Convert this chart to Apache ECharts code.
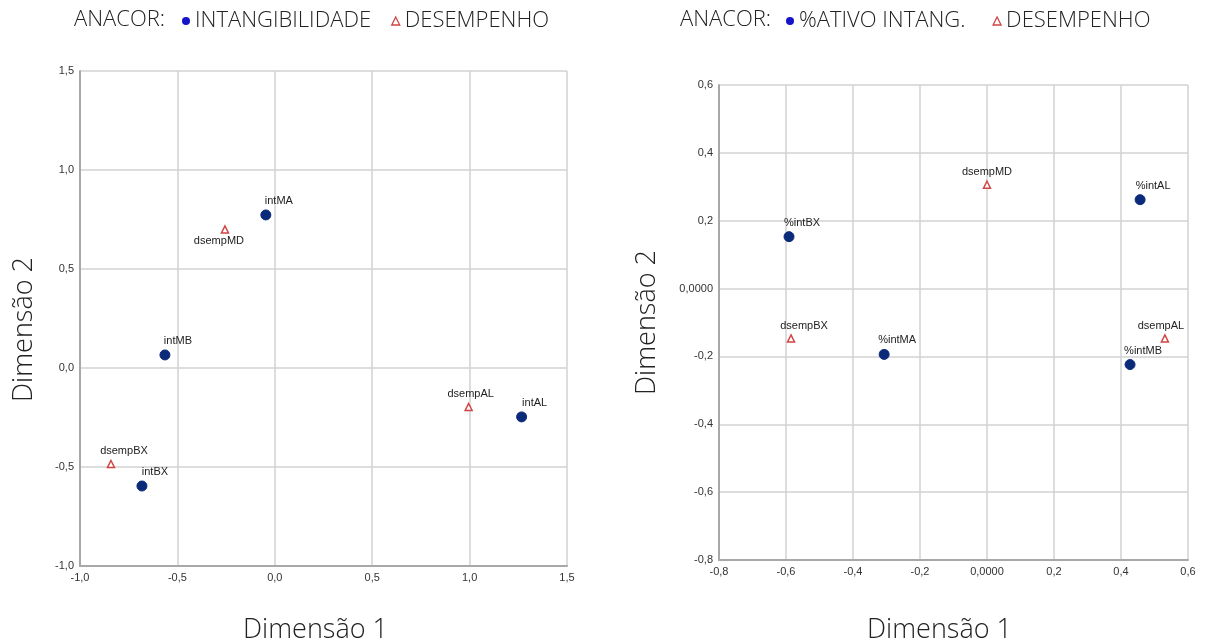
<!DOCTYPE html>
<html>
<head>
<meta charset="utf-8">
<script src="https://cdn.jsdelivr.net/npm/echarts@6/dist/echarts.min.js"></script>
<style>
html,body{margin:0;padding:0;background:#fff;}
#chart{width:1208px;height:644px;}
</style>
</head>
<body>
<div id="chart"></div>
<script>
// ---- Data ----
// Left chart: INTANGIBILIDADE vs DESEMPENHO
const leftIntNames = ['intMA', 'intMB', 'intAL', 'intBX'];
const leftIntX = [-0.046, -0.564, 1.267, -0.682];
const leftIntY = [0.773, 0.066, -0.247, -0.596];
const leftDesNames = ['dsempMD', 'dsempAL', 'dsempBX'];
const leftDesX = [-0.256, 0.995, -0.841];
const leftDesY = [0.700, -0.197, -0.485];
const leftXTicks = [-1.0, -0.5, 0.0, 0.5, 1.0, 1.5];
const leftYTicks = [-1.0, -0.5, 0.0, 0.5, 1.0, 1.5];

// Right chart: %ATIVO INTANG. vs DESEMPENHO
const rightIntNames = ['%intBX', '%intAL', '%intMA', '%intMB'];
const rightIntX = [-0.591, 0.457, -0.307, 0.427];
const rightIntY = [0.153, 0.262, -0.194, -0.224];
const rightDesNames = ['dsempMD', 'dsempBX', 'dsempAL'];
const rightDesX = [0.000, -0.585, 0.531];
const rightDesY = [0.306, -0.147, -0.147];
const rightXTicks = [-0.8, -0.6, -0.4, -0.2, 0.0, 0.2, 0.4, 0.6];
const rightYTicks = [-0.8, -0.6, -0.4, -0.2, 0.0, 0.2, 0.4, 0.6];

const legendLeft = ['INTANGIBILIDADE', 'DESEMPENHO'];
const legendRight = ['%ATIVO INTANG.', 'DESEMPENHO'];

// label placement tweaks (style only)
const labelTweaks = {
  'L:dsempMD': {position: 'bottom', offset: [-6, -1]},
  'L:dsempAL': {position: 'top', offset: [2, 0]},
  'R:dsempMD': {position: 'top', offset: [0, 0]},
  'R:dsempAL': {position: 'top', offset: [-4, 0]}
};

const TITLE_FONT = '"Open Sans", Lato, sans-serif';
const TICK_FONT = '"Liberation Sans", Arial, sans-serif';

function pts(side, names, xs, ys) {
  return names.map((n, i) => {
    const t = labelTweaks[side + ':' + n] || {position: 'top', offset: [13, 0]};
    return {
      value: [xs[i], ys[i]],
      name: n,
      label: {position: t.position, offset: t.offset}
    };
  });
}

function fmtLeft(v) {
  if (Math.abs(v) < 1e-9) return '0,0';
  return v.toFixed(1).replace('.', ',');
}
function fmtRight(v) {
  if (Math.abs(v) < 1e-9) return '0,0000';
  return v.toFixed(1).replace('.', ',');
}

const nameStyle = {fontFamily: TITLE_FONT, fontSize: 27, color: '#222', fontWeight: 300};

const axisCommon = {
  type: 'value',
  nameLocation: 'middle',
  axisLine: {show: true, onZero: false, lineStyle: {color: '#a8a8a8', width: 2}},
  axisTick: {show: false},
  splitLine: {show: true, lineStyle: {color: '#d2d2d2', width: 1.5}},
  axisLabel: {fontFamily: TICK_FONT, fontSize: 11, color: '#333'}
};

const labelStyle = {
  show: true,
  formatter: p => p.name,
  fontFamily: TICK_FONT,
  fontSize: 11,
  color: '#222',
  distance: 3
};

const legendText = {fontFamily: TITLE_FONT, fontSize: 22, fontWeight: 300, color: '#222'};

const option = {
  backgroundColor: '#fff',
  animation: false,
  title: [
    {text: 'ANACOR:', left: 69, top: 4, textStyle: legendText},
    {text: 'ANACOR:', left: 675, top: 4, textStyle: legendText}
  ],
  legend: [
    {
      data: [
        {name: legendLeft[0], icon: 'circle', itemStyle: {color: '#1414c8'}},
        {name: legendLeft[1], icon: 'triangle', itemStyle: {color: '#fff', borderColor: '#d04545', borderWidth: 1.3}}
      ],
      left: 177, top: 5, itemWidth: 8, itemHeight: 8, itemGap: 20,
      textStyle: legendText
    },
    {
      data: [
        {name: legendRight[0], icon: 'circle', itemStyle: {color: '#1414c8'}},
        {name: legendRight[1], icon: 'triangle', itemStyle: {color: '#fff', borderColor: '#d04545', borderWidth: 1.3}}
      ],
      left: 781, top: 5, itemWidth: 8, itemHeight: 8, itemGap: 27,
      textStyle: legendText
    }
  ],
  grid: [
    {left: 80, top: 71, width: 487, height: 495, outerBoundsMode: 'none', containLabel: false},
    {left: 719, top: 85, width: 469, height: 475, outerBoundsMode: 'none', containLabel: false}
  ],
  xAxis: [
    Object.assign({}, axisCommon, {gridIndex: 0, min: leftXTicks[0], max: leftXTicks[leftXTicks.length - 1], interval: 0.5,
      name: 'Dimensão 1', nameGap: 51,
      nameTextStyle: Object.assign({}, nameStyle, {padding: [0, 16, 0, 0]}),
      axisLabel: Object.assign({}, axisCommon.axisLabel, {formatter: fmtLeft, margin: 6})}),
    Object.assign({}, axisCommon, {gridIndex: 1, min: rightXTicks[0], max: rightXTicks[rightXTicks.length - 1], interval: 0.2,
      name: 'Dimensão 1', nameGap: 57,
      nameTextStyle: Object.assign({}, nameStyle, {padding: [0, 28, 0, 0]}),
      axisLabel: Object.assign({}, axisCommon.axisLabel, {formatter: fmtRight, margin: 6})})
  ],
  yAxis: [
    Object.assign({}, axisCommon, {gridIndex: 0, min: leftYTicks[0], max: leftYTicks[leftYTicks.length - 1], interval: 0.5,
      name: 'Dimensão 2', nameGap: 42,
      nameTextStyle: Object.assign({}, nameStyle, {padding: [0, 22, 0, 0]}),
      axisLabel: Object.assign({}, axisCommon.axisLabel, {formatter: fmtLeft, margin: 6})}),
    Object.assign({}, axisCommon, {gridIndex: 1, min: rightYTicks[0], max: rightYTicks[rightYTicks.length - 1], interval: 0.2,
      name: 'Dimensão 2', nameGap: 58,
      nameTextStyle: nameStyle,
      axisLabel: Object.assign({}, axisCommon.axisLabel, {formatter: fmtRight, margin: 6})})
  ],
  series: [
    {
      name: legendLeft[0], type: 'scatter', xAxisIndex: 0, yAxisIndex: 0,
      symbol: 'circle', symbolSize: 10,
      itemStyle: {color: '#0b2a7a', borderColor: '#0b2a7a', opacity: 1},
      label: labelStyle,
      data: pts('L', leftIntNames, leftIntX, leftIntY)
    },
    {
      name: legendLeft[1], type: 'scatter', xAxisIndex: 0, yAxisIndex: 0,
      symbol: 'triangle', symbolSize: 7,
      itemStyle: {color: '#fff', borderColor: '#d04545', borderWidth: 1.5, opacity: 1},
      label: labelStyle,
      data: pts('L', leftDesNames, leftDesX, leftDesY)
    },
    {
      name: legendRight[0], type: 'scatter', xAxisIndex: 1, yAxisIndex: 1,
      symbol: 'circle', symbolSize: 10,
      itemStyle: {color: '#0b2a7a', borderColor: '#0b2a7a', opacity: 1},
      label: labelStyle,
      data: pts('R', rightIntNames, rightIntX, rightIntY)
    },
    {
      name: legendRight[1], type: 'scatter', xAxisIndex: 1, yAxisIndex: 1,
      symbol: 'triangle', symbolSize: 7,
      itemStyle: {color: '#fff', borderColor: '#d04545', borderWidth: 1.5, opacity: 1},
      label: labelStyle,
      data: pts('R', rightDesNames, rightDesX, rightDesY)
    }
  ]
};

const chart = echarts.init(document.getElementById('chart'), null, {renderer: 'canvas'});
chart.setOption(option);
</script>
</body>
</html>
